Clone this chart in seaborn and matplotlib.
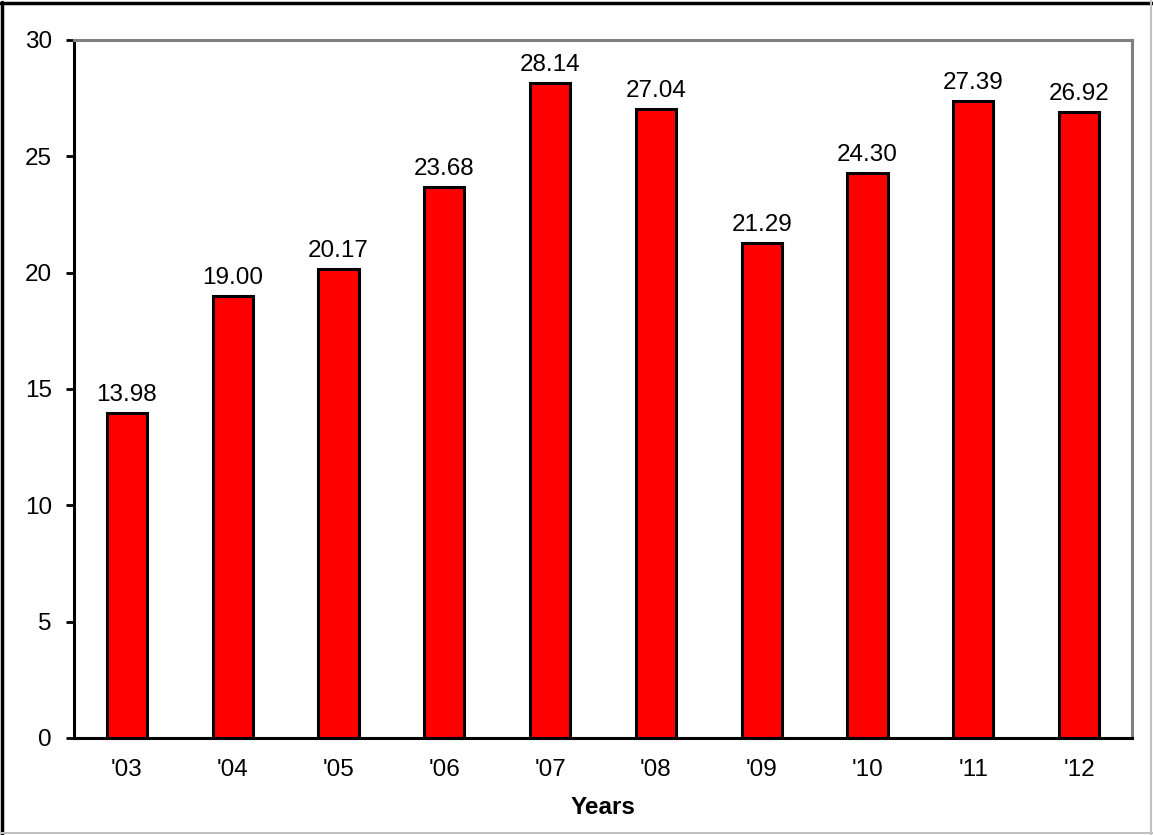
import matplotlib
matplotlib.use("Agg")
import matplotlib.pyplot as plt
from matplotlib.lines import Line2D
import seaborn as sns
import pandas as pd

years = ["'03", "'04", "'05", "'06", "'07", "'08", "'09", "'10", "'11", "'12"]
values = [13.98, 19.00, 20.17, 23.68, 28.14, 27.04, 21.29, 24.30, 27.39, 26.92]
yticks = [0, 5, 10, 15, 20, 25, 30]

sns.set_style("white")
plt.rcParams["font.family"] = ["Liberation Sans", "DejaVu Sans"]
plt.rcParams["text.color"] = "black"
plt.rcParams["xtick.color"] = "black"
plt.rcParams["ytick.color"] = "black"
plt.rcParams["axes.labelcolor"] = "black"

FS = 17.5

df = pd.DataFrame({"year": years, "value": values})

fig = plt.figure(figsize=(11.53, 8.35), dpi=100)
ax = fig.add_axes([0.0642, 0.1162, 0.9176, 0.8359])

sns.barplot(data=df, x="year", y="value", color="#ff0000", saturation=1,
            edgecolor="black", linewidth=2.2, width=0.38, ax=ax)

for bar, v in zip(ax.patches, values):
    ax.text(bar.get_x() + bar.get_width() / 2, v + 0.3, f"{v:.2f}",
            ha="center", va="bottom", fontsize=FS, color="black")

ax.set_xlim(-0.5, len(years) - 0.5)
ax.set_ylim(0, 30)
ax.set_yticks(yticks)
ax.set_yticklabels([str(t) for t in yticks], fontsize=FS)
ax.tick_params(axis="y", direction="out", length=6, width=2, colors="black", pad=10, left=True)
ax.tick_params(axis="x", length=0, labelsize=FS, pad=15, labelcolor="black")
ax.set_ylabel("")
ax.set_xlabel("Years", fontsize=FS, fontweight="bold", labelpad=11, color="black")

for side in ["left", "bottom"]:
    ax.spines[side].set_color("black")
    ax.spines[side].set_linewidth(2.2)
for side in ["top", "right"]:
    ax.spines[side].set_visible(True)
    ax.spines[side].set_color("#808080")
    ax.spines[side].set_linewidth(2.2)

# Frame around the whole figure
fig.add_artist(Line2D([0.002, 0.002], [0, 0.998], transform=fig.transFigure, color="black", lw=2.5))
fig.add_artist(Line2D([0, 1], [0.997, 0.997], transform=fig.transFigure, color="black", lw=2.5))
fig.add_artist(Line2D([0.998, 0.998], [0, 1], transform=fig.transFigure, color="#c0c0c0", lw=1.5))
fig.add_artist(Line2D([0, 1], [0.002, 0.002], transform=fig.transFigure, color="#c0c0c0", lw=1.5))

fig.savefig("out.png", dpi=100)
